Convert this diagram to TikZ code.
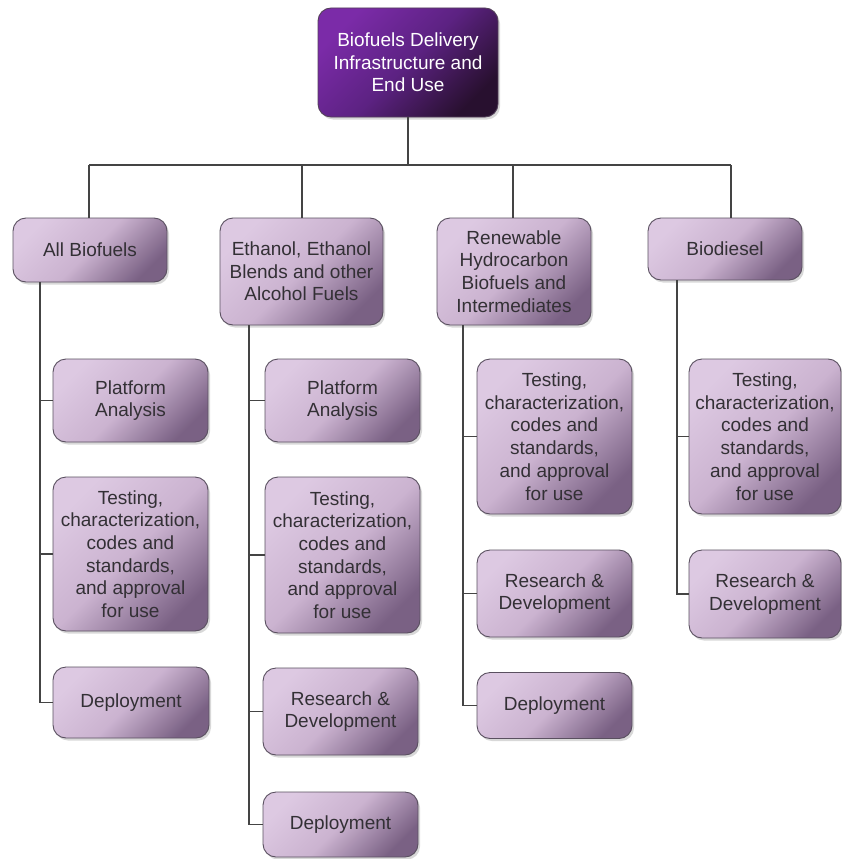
\documentclass[tikz,border=0pt]{standalone}
\usepackage{fontspec}
\setmainfont{Liberation Sans}
\usetikzlibrary{shadows}
\definecolor{boxL}{HTML}{DDC9E2}
\definecolor{boxM}{HTML}{CBB3D0}
\definecolor{boxD}{HTML}{7A6184}
\definecolor{topL}{HTML}{7B2BA8}
\definecolor{topM}{HTML}{5C2282}
\definecolor{topD}{HTML}{28102F}
\definecolor{edgec}{HTML}{5A5060}
\definecolor{txt}{HTML}{333035}
\definecolor{wirec}{HTML}{444444}
\begin{document}
\begin{tikzpicture}[x=1pt,y=-1pt,
  card/.style={rounded corners=13pt, draw=edgec, line width=0.9pt,
    top color=boxL, bottom color=boxD, middle color=boxM, shading angle=45,
    drop shadow={opacity=0.3, shadow xshift=2pt, shadow yshift=-2.5pt},
    text=txt, align=center, inner sep=0pt,
    font=\fontsize{19}{22.7}\selectfont},
  topcard/.style={card, draw=topD!80, top color=topL, bottom color=topD,
    middle color=topM, shading angle=45, text=white},
  wire/.style={draw=wirec, line width=1.3pt}]
\useasboundingbox (0,0) rectangle (841,859);
\fill[white] (0,0) rectangle (841,859);

% top
\node[topcard, minimum width=180pt, minimum height=109pt] (top) at (408,62.5)
  {Biofuels Delivery\\Infrastructure and\\End Use};

% level 1
\node[card, minimum width=154pt, minimum height=64pt] (A) at (90,250) {All Biofuels};
\node[card, minimum width=163pt, minimum height=107pt] (B) at (301.5,271.5)
  {Ethanol, Ethanol\\Blends and other\\Alcohol Fuels};
\node[card, minimum width=154pt, minimum height=107pt] (C) at (514,271.5)
  {Renewable\\Hydrocarbon\\Biofuels and\\Intermediates};
\node[card, minimum width=154pt, minimum height=62pt] (D) at (725,249) {Biodiesel};

% column A
\node[card, minimum width=155pt, minimum height=83pt] (A1) at (130.5,400.5) {Platform\\Analysis};
\node[card, minimum width=155pt, minimum height=154pt] (A2) at (130.5,554)
  {Testing,\\characterization,\\codes and\\standards,\\and approval\\for use};
\node[card, minimum width=156pt, minimum height=71pt] (A3) at (131,702.5) {Deployment};

% column B
\node[card, minimum width=155pt, minimum height=83pt] (B1) at (342.5,400.5) {Platform\\Analysis};
\node[card, minimum width=155pt, minimum height=156pt] (B2) at (342.5,555)
  {Testing,\\characterization,\\codes and\\standards,\\and approval\\for use};
\node[card, minimum width=155pt, minimum height=87pt] (B3) at (340.5,711.5) {Research \&\\Development};
\node[card, minimum width=155pt, minimum height=65pt] (B4) at (340.5,824.5) {Deployment};

% column C
\node[card, minimum width=155pt, minimum height=155pt] (C1) at (554.5,436.5)
  {Testing,\\characterization,\\codes and\\standards,\\and approval\\for use};
\node[card, minimum width=155pt, minimum height=87pt] (C2) at (554.5,593.5) {Research \&\\Development};
\node[card, minimum width=155pt, minimum height=66pt] (C3) at (554.5,705.5) {Deployment};

% column D
\node[card, minimum width=152pt, minimum height=155pt] (D1) at (765,436.5)
  {Testing,\\characterization,\\codes and\\standards,\\and approval\\for use};
\node[card, minimum width=152pt, minimum height=88pt] (D2) at (765,594) {Research \&\\Development};

% bus
\coordinate (jA) at (89,165);
\coordinate (jB) at (302,165);
\coordinate (jC) at (513,165);
\coordinate (jD) at (731,165);
\draw[wire] (top.south) -- (top.south |- jA);
\draw[wire] (jA) -- (jD);
\draw[wire] (jA) -- (jA |- A.north);
\draw[wire] (jB) -- (jB |- B.north);
\draw[wire] (jC) -- (jC |- C.north);
\draw[wire] (jD) -- (jD |- D.north);

% spines
\coordinate (sA) at (40,300);
\coordinate (sB) at (249,300);
\coordinate (sC) at (463,300);
\coordinate (sD) at (677,300);

\draw[wire] (A.south -| sA) |- (A3.west);
\draw[wire] (sA |- A1.west) -- (A1.west);
\draw[wire] (sA |- A2.west) -- (A2.west);

\draw[wire] (B.south -| sB) |- (B4.west);
\draw[wire] (sB |- B1.west) -- (B1.west);
\draw[wire] (sB |- B2.west) -- (B2.west);
\draw[wire] (sB |- B3.west) -- (B3.west);

\draw[wire] (C.south -| sC) |- (C3.west);
\draw[wire] (sC |- C1.west) -- (C1.west);
\draw[wire] (sC |- C2.west) -- (C2.west);

\draw[wire] (D.south -| sD) |- (D2.west);
\draw[wire] (sD |- D1.west) -- (D1.west);
\end{tikzpicture}
\end{document}
